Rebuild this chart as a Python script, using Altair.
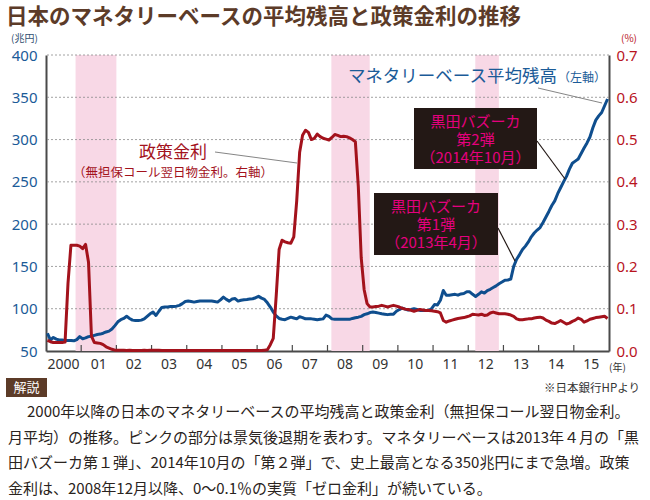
import altair as alt
import pandas as pd

# ---------------- data ----------------
years = list(range(2000, 2016))

# Monetary base, monthly average balance (trillion yen), Jan..Dec
mb_2000 = [71, 63, 66, 64, 63, 63, 62.5, 62.5, 62.5, 62, 63.5, 67]
mb_2001 = [64.5, 65.5, 67, 67.5, 68.5, 69.5, 70, 71, 72.5, 73.5, 76, 80]
mb_2002 = [84.5, 87, 88.5, 91, 88.5, 86.5, 86, 86, 86.5, 88, 91, 94]
mb_2003 = [96, 92, 97, 101.5, 102, 102, 102.5, 102.7, 103, 104, 106, 108.5]
mb_2004 = [109, 108.5, 107.8, 108.5, 109, 109, 109, 109, 109, 108.5, 107.8, 110.5]
mb_2005 = [113.8, 111, 109, 111.5, 112, 109, 110, 110.6, 111, 111.5, 111.8, 113]
mb_2006 = [114.6, 112.5, 111, 107, 102, 96, 91.5, 88.5, 87.5, 87, 88.5, 90]
mb_2007 = [89, 88, 90.5, 89.5, 88, 88, 88, 87.5, 87, 87.5, 88, 92.5]
mb_2008 = [91, 88, 87.5, 87.5, 87.4, 87.5, 87.5, 87.4, 88.5, 89.4, 90, 91]
mb_2009 = [93, 94, 95.5, 96, 95.5, 94.8, 94, 93.5, 93, 93.5, 93.6, 97]
mb_2010 = [99, 100.8, 99.5, 98.4, 99, 100, 99, 98, 98, 98, 98, 100]
mb_2011 = [105, 104.5, 110, 121.5, 116, 116, 116.5, 117, 116, 117.5, 118, 120]
mb_2012 = [120, 117, 114.5, 117, 120, 118.5, 121.5, 123, 125, 127, 129.5, 131.5]
mb_2013 = [133.7, 134, 135, 150, 158.5, 164, 170, 174, 179, 185, 189.5, 193]
mb_2014 = [196, 202, 208.5, 215, 222, 227.5, 236, 243, 250, 256.5, 265, 272]
mb_2015 = [274.5, 277, 283.5, 290, 296, 303, 314, 323, 328, 332, 340, 348]

# Policy rate: uncollateralized overnight call rate, monthly average (%)
rate_2000 = [0.025, 0.022, 0.02, 0.02, 0.02, 0.02, 0.021, 0.16, 0.25, 0.25, 0.25, 0.248]
rate_2001 = [0.242, 0.252, 0.21, 0.035, 0.02, 0.019, 0.018, 0.015, 0.01, 0.007, 0.004, 0.002]
rate_2002 = [0.002, 0.002, 0.002, 0.001, 0.002, 0.001, 0.001, 0.001, 0.001, 0.002, 0.001, 0.002]
rate_2003 = [0.002, 0.002, 0.002, 0.001, 0.001, 0.001, 0.001, 0.001, 0.001, 0.001, 0.001, 0.001]
rate_2004 = [0.001, 0.001, 0.001, 0.001, 0.001, 0.001, 0.001, 0.001, 0.001, 0.001, 0.001, 0.001]
rate_2005 = [0.001, 0.001, 0.001, 0.001, 0.001, 0.001, 0.001, 0.001, 0.001, 0.001, 0.001, 0.001]
rate_2006 = [0.001, 0.001, 0.002, 0.003, 0.015, 0.03, 0.13, 0.24, 0.262, 0.258, 0.256, 0.255]
rate_2007 = [0.27, 0.355, 0.47, 0.51, 0.522, 0.517, 0.5, 0.503, 0.513, 0.507, 0.503, 0.501]
rate_2008 = [0.499, 0.505, 0.512, 0.51, 0.507, 0.508, 0.507, 0.504, 0.5, 0.495, 0.39, 0.22]
rate_2009 = [0.145, 0.112, 0.104, 0.104, 0.105, 0.106, 0.108, 0.106, 0.104, 0.106, 0.108, 0.106]
rate_2010 = [0.104, 0.101, 0.099, 0.098, 0.096, 0.094, 0.096, 0.098, 0.097, 0.096, 0.096, 0.095]
rate_2011 = [0.094, 0.093, 0.09, 0.072, 0.068, 0.071, 0.073, 0.075, 0.077, 0.078, 0.079, 0.081]
rate_2012 = [0.083, 0.087, 0.086, 0.085, 0.087, 0.084, 0.085, 0.09, 0.092, 0.09, 0.088, 0.088]
rate_2013 = [0.088, 0.087, 0.085, 0.082, 0.076, 0.074, 0.074, 0.075, 0.076, 0.076, 0.078, 0.079]
rate_2014 = [0.08, 0.078, 0.073, 0.07, 0.066, 0.065, 0.068, 0.072, 0.068, 0.064, 0.066, 0.07]
rate_2015 = [0.073, 0.078, 0.075, 0.068, 0.071, 0.075, 0.077, 0.079, 0.08, 0.081, 0.082, 0.077]

# recession periods (pink bands), in decimal years
band_start = [2000.84, 2008.11, 2012.20]
band_end = [2002.00, 2009.20, 2012.87]

left_ticks = [50, 100, 150, 200, 250, 300, 350, 400]
right_ticks = [0.0, 0.1, 0.2, 0.3, 0.4, 0.5, 0.6, 0.7]
year_ticks = years

# ---------------- tables ----------------
mb_all = (mb_2000 + mb_2001 + mb_2002 + mb_2003 + mb_2004 + mb_2005 + mb_2006 + mb_2007
          + mb_2008 + mb_2009 + mb_2010 + mb_2011 + mb_2012 + mb_2013 + mb_2014 + mb_2015)
rate_all = (rate_2000 + rate_2001 + rate_2002 + rate_2003 + rate_2004 + rate_2005 + rate_2006
            + rate_2007 + rate_2008 + rate_2009 + rate_2010 + rate_2011 + rate_2012
            + rate_2013 + rate_2014 + rate_2015)
t_all = [y + (m + 0.5) / 12 for y in years for m in range(12)]
df = pd.DataFrame({"t": t_all, "mb": mb_all, "rate": rate_all})
bands = pd.DataFrame({"s": band_start, "e": band_end})
grid = pd.DataFrame({"v": [v for v in left_ticks if v > 50]})
inner_ticks = pd.DataFrame({"yr": [y for y in year_ticks if y > 2000]})
one = pd.DataFrame({"k": [0]})

# ---------------- styling ----------------
W, H = 563, 296
JP = "Noto Sans CJK JP"
NUM = "Noto Sans"
BLUE_LINE = "#0f4e8e"
RED_LINE = "#a3121c"
BLUE_TXT = "#1b5b98"
RED_TXT = "#b8141e"
PINK = "#f8d8e6"
GRID = "#8a8a8a"
AXIS = "#4a4a4a"
BROWN = "#5c3b28"
MAGENTA = "#e5007e"
BOXFILL = "#231815"
BODY = "#2a2320"

xscale = alt.Scale(domain=[2000, 2016], nice=False, zero=False)
lscale = alt.Scale(domain=[50, 400], nice=False, zero=False)
rscale = alt.Scale(domain=[0, 0.7], nice=False, zero=False)

x_axis = alt.Axis(
    values=year_ticks,
    labelExpr="datum.value == 2000 ? '2000' : slice(toString(datum.value), 2)",
    labelOffset=17,
    labelFlush=False,
    labelOverlap=False,
    ticks=False,
    grid=False,
    domainColor=AXIS,
    domainWidth=2,
    labelFont=NUM,
    labelFontSize=14,
    labelColor="#333333",
    labelPadding=6,
    title=None,
)

band_layer = alt.Chart(bands).mark_rect(color=PINK).encode(
    x=alt.X("s:Q", scale=xscale, axis=x_axis),
    x2="e:Q",
    y=alt.value(0),
    y2=alt.value(H),
)

grid_layer = alt.Chart(grid).mark_rule(color=GRID, strokeWidth=0.8, strokeDash=[2, 2]).encode(
    y=alt.Y("v:Q", scale=lscale, axis=None)
)

tick_layer = alt.Chart(inner_ticks).mark_rule(color=AXIS, strokeWidth=1.2).encode(
    x=alt.X("yr:Q", scale=xscale, axis=x_axis),
    y=alt.value(H - 6),
    y2=alt.value(H),
)

blue_layer = alt.Chart(df).mark_line(color=BLUE_LINE, strokeWidth=3, strokeJoin="round").encode(
    x=alt.X("t:Q", scale=xscale, axis=x_axis),
    y=alt.Y(
        "mb:Q",
        scale=lscale,
        axis=alt.Axis(
            orient="left",
            values=left_ticks,
            format="d",
            ticks=False,
            grid=False,
            domainColor=AXIS,
            domainWidth=2,
            labelFont=NUM,
            labelFontSize=15,
            labelColor=BLUE_TXT,
            labelPadding=9,
            title=None,
        ),
    ),
)

red_layer = alt.Chart(df).mark_line(color=RED_LINE, strokeWidth=3, strokeJoin="round").encode(
    x=alt.X("t:Q", scale=xscale, axis=x_axis),
    y=alt.Y(
        "rate:Q",
        scale=rscale,
        axis=alt.Axis(
            orient="right",
            values=right_ticks,
            format=".1f",
            ticks=False,
            grid=False,
            domainColor=AXIS,
            domainWidth=2,
            labelFont=NUM,
            labelFontSize=15,
            labelColor=RED_TXT,
            labelPadding=7,
            title=None,
        ),
    ),
)


def txt(s, x, y, size, color, align="left", weight="normal", font=JP):
    return alt.Chart(one).mark_text(
        text=s, align=align, baseline="middle", fontSize=size, color=color,
        font=font, fontWeight=weight,
    ).encode(x=alt.value(x), y=alt.value(y))


def box(x1, y1, x2, y2, color):
    return alt.Chart(one).mark_rect(color=color).encode(
        x=alt.value(x1), x2=alt.value(x2), y=alt.value(y1), y2=alt.value(y2)
    )


def seg(x1, y1, x2, y2, color, w=1.0):
    return alt.Chart(one).mark_rule(color=color, strokeWidth=w).encode(
        x=alt.value(x1), x2=alt.value(x2), y=alt.value(y1), y2=alt.value(y2)
    )


annotations = [
    # title & units
    txt("日本のマネタリーベースの平均残高と政策金利の推移", -40, -37, 21.5, BROWN, weight="bold"),
    txt("(兆円)", -35, -16, 10, "#2f4f6f"),
    txt("(%)", 575, -16, 10, RED_TXT),
    txt("(年)", 563, H + 17, 10, "#333333"),
    # policy-rate label
    txt("政策金利", 127, 98, 17, RED_LINE, align="center"),
    txt("（無担保コール翌日物金利。右軸）", 127, 118, 12.5, RED_LINE, align="center"),
    seg(169, 97, 251, 108, "#777777", 0.9),
    # monetary base label
    txt("マネタリーベース平均残高", 511, 22, 17.5, BLUE_TXT, align="right"),
    txt("（左軸）", 512, 23, 12, BLUE_TXT),
    seg(492, 33, 556, 48, "#777777", 0.9),
    # Kuroda bazooka 2
    box(368, 53, 491, 114, BOXFILL),
    txt("黒田バズーカ", 429.5, 66.5, 15, MAGENTA, align="center"),
    txt("第2弾", 429.5, 84.5, 15, MAGENTA, align="center"),
    txt("（2014年10月）", 429.5, 102.5, 15, MAGENTA, align="center"),
    seg(491, 86, 519, 124, BOXFILL, 1.2),
    # Kuroda bazooka 1
    box(328, 138, 452, 200, BOXFILL),
    txt("黒田バズーカ", 390, 151.5, 15, MAGENTA, align="center"),
    txt("第1弾", 390, 169.5, 15, MAGENTA, align="center"),
    txt("（2013年4月）", 390, 187.5, 15, MAGENTA, align="center"),
    seg(452, 173, 469, 206, BOXFILL, 1.2),
    # explanation block
    box(-40, 323, 1, 342, BROWN),
    txt("解説", -19.5, 332.5, 13, "#ffffff", align="center"),
    txt("※日本銀行HPより", 594, 334, 11.5, "#333333", align="right"),
    txt("2000年以降の日本のマネタリーベースの平均残高と政策金利（無担保コール翌日物金利。",
        -19, 357, 15, BODY),
    txt("月平均）の推移。ピンクの部分は景気後退期を表わす。マネタリーベースは2013年４月の「黒",
        -38, 382.5, 15, BODY),
    txt("田バズーカ第１弾」、2014年10月の「第２弾」で、史上最高となる350兆円にまで急増。政策",
        -38, 408, 15, BODY),
    txt("金利は、2008年12月以降、0〜0.1％の実質「ゼロ金利」が続いている。",
        -38, 433.5, 15, BODY),
]

chart = (
    alt.layer(band_layer, grid_layer, tick_layer, blue_layer, red_layer, *annotations)
    .resolve_scale(y="independent")
    .properties(
        width=W,
        height=H,
        padding={"left": 46, "top": 55, "right": 41, "bottom": 149},
        autosize=alt.AutoSizeParams(type="none"),
        background="white",
    )
    .configure_view(stroke="transparent")
)

chart.save("out.html", embed_options={"renderer": "svg", "actions": False})
